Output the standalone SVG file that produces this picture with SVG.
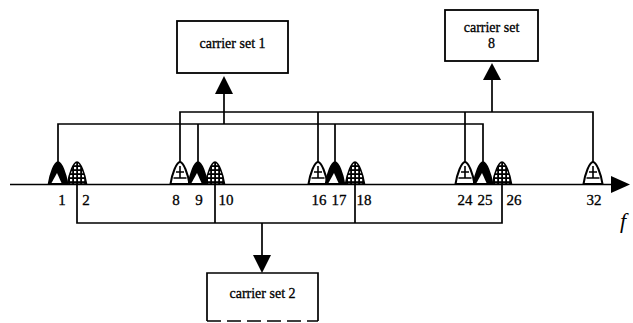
<svg xmlns="http://www.w3.org/2000/svg" width="633" height="323" viewBox="0 0 633 323">
<style>
.ln{fill:none;stroke:#000;stroke-width:1.7}
.box{fill:#fff;stroke:#000;stroke-width:1.8}
.t{font-family:"Liberation Serif","Times New Roman",serif;font-size:14px;fill:#000;text-anchor:middle;stroke:#000;stroke-width:0.3}
.n{font-family:"Liberation Serif","Times New Roman",serif;font-size:15px;fill:#000;text-anchor:middle;stroke:#000;stroke-width:0.3}
.ah{fill:#000}
</style>
<defs>
<pattern id="grid" width="4" height="4" patternUnits="userSpaceOnUse">
<rect width="4" height="4" fill="#000"/>
<rect x="1" y="1" width="2.2" height="2.2" fill="#fff"/>
</pattern>
<path id="bell" d="M-9.5,22 C-8,12 -3.5,0 0,0 C3.5,0 8,12 9.5,22 Z"/>
<g id="c8">
<use href="#bell" fill="#fff" stroke="#000" stroke-width="2"/>
<path d="M-4,10 H4 M-6.5,16 H6.5 M0,4 V16" stroke="#000" stroke-width="1.6" fill="none"/>
</g>
<g id="c1">
<use href="#bell" fill="#000" stroke="#000" stroke-width="1.6"/>
<path d="M-6.5,21 L-1,11 L3.5,21 Z" fill="#fff"/>
</g>
<g id="c2">
<use href="#bell" fill="url(#grid)" stroke="#000" stroke-width="1.6"/>
</g>
</defs>
<rect width="633" height="323" fill="#fff"/>

<g id="connectors">
<path class="ln" d="M10,184.5 H614"/>
<polygon class="ah" points="611,176 630,184.5 611,193"/>
<path class="ln" d="M58,162 V124 H483 V162 M198,124 V162 M335,124 V162"/>
<path class="ln" d="M224,124 V93"/>
<polygon class="ah" points="215,94 224,76 233,94"/>
<path class="ln" d="M180,162 V112 H593 V162 M318,112 V162 M465,112 V162"/>
<path class="ln" d="M492,112 V80"/>
<polygon class="ah" points="483,80 492,63 501,80"/>
<path class="ln" d="M77,185 V223 H502 V185 M215,185 V223 M355,185 V223"/>
<path class="ln" d="M262,223 V256"/>
<polygon class="ah" points="253,255 262,273 271,255"/>
</g>

<g id="carriers">
<g id="carrier1"><use href="#c1" x="58" y="162"/><text class="n" x="62" y="205">1</text></g>
<g id="carrier2"><use href="#c2" x="77" y="162"/><text class="n" x="86" y="205">2</text></g>
<g id="carrier8"><use href="#c8" x="180" y="162"/><text class="n" x="176" y="205">8</text></g>
<g id="carrier9"><use href="#c1" x="198" y="162"/><text class="n" x="199" y="205">9</text></g>
<g id="carrier10"><use href="#c2" x="215" y="162"/><text class="n" x="226" y="205">10</text></g>
<g id="carrier16"><use href="#c8" x="318" y="162"/><text class="n" x="319" y="205">16</text></g>
<g id="carrier17"><use href="#c1" x="335" y="162"/><text class="n" x="339" y="205">17</text></g>
<g id="carrier18"><use href="#c2" x="355" y="162"/><text class="n" x="364" y="205">18</text></g>
<g id="carrier24"><use href="#c8" x="465" y="162"/><text class="n" x="465" y="205">24</text></g>
<g id="carrier25"><use href="#c1" x="483" y="162"/><text class="n" x="485" y="205">25</text></g>
<g id="carrier26"><use href="#c2" x="502" y="162"/><text class="n" x="514" y="205">26</text></g>
<g id="carrier32"><use href="#c8" x="593" y="162"/><text class="n" x="594" y="205">32</text></g>
</g>

<g id="set1">
<rect class="box" x="177" y="21" width="111" height="52"/>
<text class="t" x="232.5" y="48">carrier set 1</text>
</g>
<g id="set8">
<rect class="box" x="445" y="10" width="93" height="51"/>
<text class="t" x="491.5" y="32">carrier set</text>
<text class="t" x="491.5" y="48">8</text>
</g>
<g id="set2">
<path class="ln" d="M207,321 V273 H318 V321"/>
<path class="ln" d="M207,321 H318" stroke-dasharray="14,6"/>
<text class="t" x="262.5" y="298">carrier set 2</text>
</g>
<text x="620" y="228" style="font-family:'Liberation Serif',serif;font-style:italic;font-size:22px">f</text>
</svg>
